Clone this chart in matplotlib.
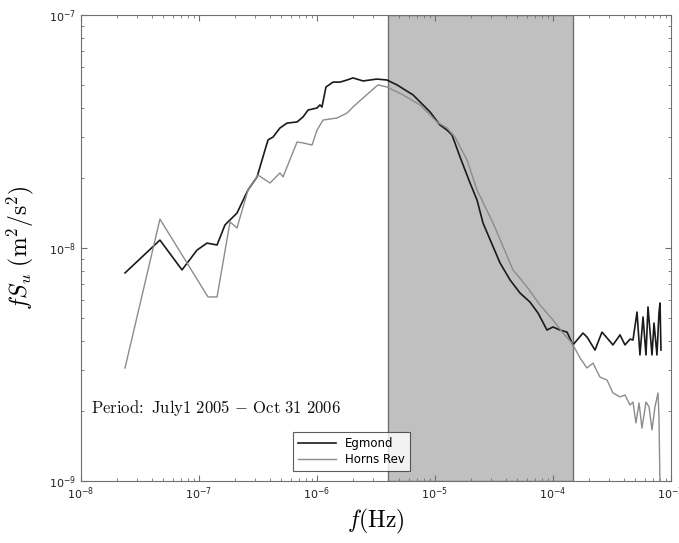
import numpy as np
import matplotlib.pyplot as plt

# values, as log10(f) and log10(fSu)
eg_logf = [-7.627, -7.331, -7.144, -7.017, -6.932, -6.847, -6.780, -6.678, -6.585, -6.508,
           -6.458, -6.415, -6.373, -6.314, -6.254, -6.169, -6.119, -6.076, -6.000, -5.975,
           -5.958, -5.924, -5.864, -5.805, -5.746, -5.695, -5.610, -5.492, -5.407, -5.322,
           -5.186, -5.042, -4.958, -4.898, -4.856, -4.788, -4.703, -4.644, -4.593, -4.449,
           -4.364, -4.280, -4.195, -4.127, -4.051, -4.000, -3.941, -3.881, -3.831, -3.746,
           -3.712, -3.644, -3.585, -3.542, -3.492, -3.432, -3.390, -3.347, -3.322, -3.288,
           -3.263, -3.237, -3.212, -3.195, -3.161, -3.144, -3.119, -3.102, -3.093, -3.085]
eg_logs = [-8.107, -7.966, -8.094, -8.009, -7.979, -7.987, -7.901, -7.850, -7.751, -7.695,
           -7.609, -7.536, -7.524, -7.485, -7.464, -7.459, -7.438, -7.408, -7.399, -7.386,
           -7.395, -7.309, -7.288, -7.288, -7.279, -7.270, -7.283, -7.275, -7.279, -7.300,
           -7.343, -7.416, -7.472, -7.494, -7.515, -7.609, -7.721, -7.794, -7.893, -8.064,
           -8.137, -8.193, -8.232, -8.279, -8.352, -8.339, -8.352, -8.361, -8.416, -8.365,
           -8.382, -8.438, -8.361, -8.386, -8.416, -8.373, -8.416, -8.391, -8.395, -8.275,
           -8.459, -8.296, -8.459, -8.253, -8.459, -8.322, -8.459, -8.279, -8.236, -8.438]

hr_logf = [-7.627, -7.331, -6.924, -6.847, -6.737, -6.678, -6.585, -6.500, -6.398, -6.314,
           -6.288, -6.169, -6.119, -6.042, -6.000, -5.949, -5.831, -5.746, -5.695, -5.610,
           -5.551, -5.483, -5.407, -5.356, -5.271, -5.127, -4.983, -4.898, -4.831, -4.729,
           -4.644, -4.508, -4.339, -4.220, -4.110, -4.000, -3.915, -3.839, -3.771, -3.712,
           -3.661, -3.602, -3.542, -3.492, -3.432, -3.390, -3.347, -3.322, -3.297, -3.271,
           -3.246, -3.212, -3.186, -3.161, -3.136, -3.110, -3.102, -3.085]
hr_logs = [-8.515, -7.876, -8.210, -8.210, -7.888, -7.914, -7.751, -7.687, -7.721, -7.678,
           -7.695, -7.545, -7.549, -7.558, -7.494, -7.451, -7.442, -7.421, -7.395, -7.356,
           -7.330, -7.300, -7.309, -7.322, -7.343, -7.386, -7.459, -7.485, -7.524, -7.622,
           -7.751, -7.893, -8.094, -8.167, -8.245, -8.309, -8.365, -8.408, -8.472, -8.515,
           -8.494, -8.554, -8.567, -8.622, -8.639, -8.631, -8.674, -8.661, -8.751, -8.665,
           -8.773, -8.661, -8.682, -8.781, -8.682, -8.622, -8.725, -9.3]

band = [3.98e-6, 1.48e-4]

plt.rcParams['mathtext.fontset'] = 'cm'

fig = plt.figure(figsize=(6.79, 5.43), dpi=100)
ax = fig.add_axes([81 / 679, 1 - 481 / 543, 590 / 679, 466 / 543])

ax.axvspan(band[0], band[1], facecolor='#c0c0c0', edgecolor='#707070', lw=1.0, zorder=0)
ax.plot(10 ** np.array(eg_logf), 10 ** np.array(eg_logs), color='#1a1a1a', lw=1.2, label='Egmond')
ax.plot(10 ** np.array(hr_logf), 10 ** np.array(hr_logs), color='#8c8c8c', lw=1.0, label='Horns Rev')

ax.set_xscale('log')
ax.set_yscale('log')
ax.set_xlim(1e-8, 1e-3)
ax.set_ylim(1e-9, 1e-7)

for s in ax.spines.values():
    s.set_color('#707070')
ax.tick_params(which='both', direction='in', top=True, right=True, colors='#707070',
               labelcolor='#222222', labelsize=8)
ax.tick_params(which='major', length=4)
ax.tick_params(which='minor', length=2)

ax.set_xlabel(r'$f(\mathrm{Hz})$', fontsize=17, va='center')
ax.xaxis.set_label_coords(0.5, -0.086)
ax.set_ylabel(r'$fS_u\ (\mathrm{m}^2/\mathrm{s}^2)$', fontsize=17, va='center')
ax.yaxis.set_label_coords(-0.102, 0.5)

ax.text(1.22e-8, 1.96e-9, r'$\mathrm{Period\!:\ July1\ 2005\,-\,Oct\ 31\ 2006}$',
        fontsize=12, color='#111111', va='baseline')

leg = ax.legend(loc='lower left', bbox_to_anchor=((293 - 81) / 590, (481 - 471) / 466),
                fontsize=8.5, frameon=True, fancybox=False, edgecolor='#333333',
                borderpad=0.4, handlelength=3.2, labelspacing=0.3, borderaxespad=0)
leg.get_frame().set_linewidth(0.8)

fig.savefig('out.png', dpi=100)
